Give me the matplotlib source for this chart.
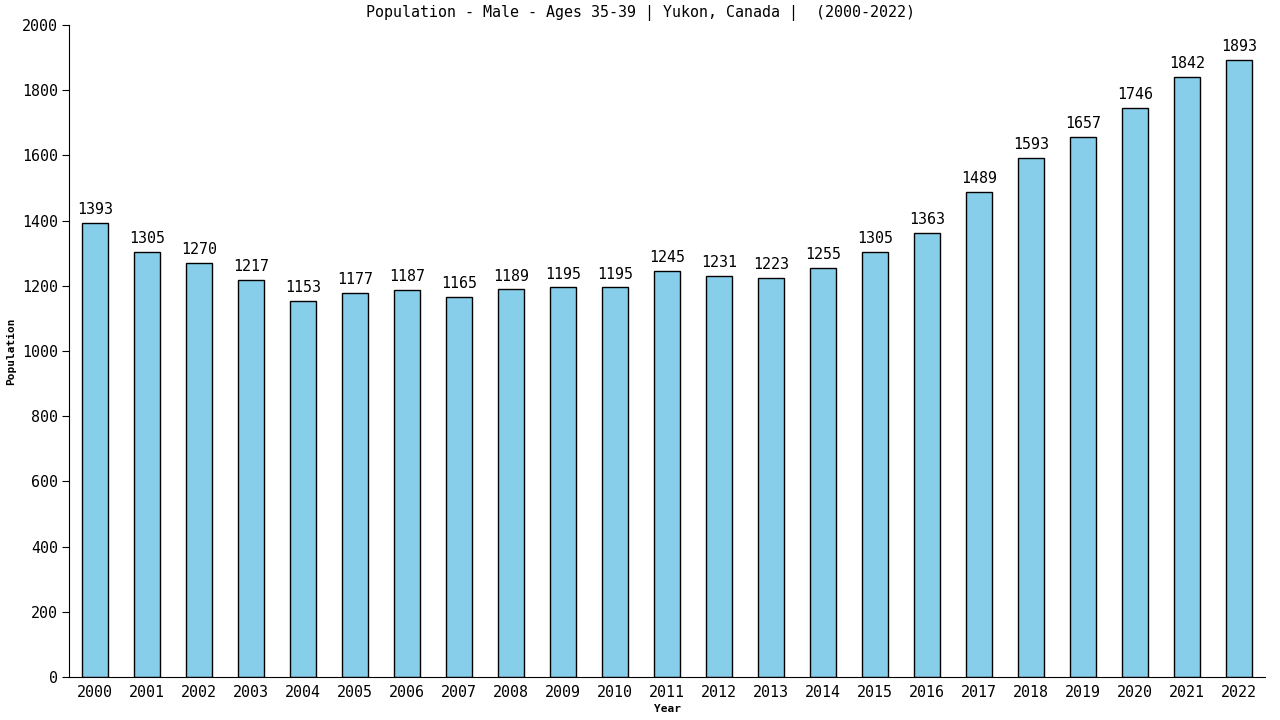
import matplotlib
matplotlib.use("Agg")
import matplotlib.pyplot as plt

years = [str(y) for y in range(2000, 2023)]
population = [1393, 1305, 1270, 1217, 1153, 1177, 1187, 1165, 1189, 1195, 1195,
              1245, 1231, 1223, 1255, 1305, 1363, 1489, 1593, 1657, 1746, 1842, 1893]
yticks = [0, 200, 400, 600, 800, 1000, 1200, 1400, 1600, 1800, 2000]

plt.rcParams['font.family'] = ['DejaVu Sans Mono']

fig = plt.figure(figsize=(12.8, 7.2), dpi=100)
ax = fig.add_axes([69 / 1280, 43 / 720, 1196 / 1280, 652 / 720])

x = range(len(years))
ax.bar(x, population, width=0.5, color='#87ceeb', edgecolor='black', linewidth=1)

for i, v in enumerate(population):
    ax.text(i, v + 18, str(v), ha='center', va='bottom', fontsize=10.8)

ax.set_xlim(-0.5, len(years) - 0.5)
ax.set_ylim(0, 2000)
ax.set_xticks(list(x))
ax.set_xticklabels(years, fontsize=10.8)
ax.set_yticks(yticks)
ax.set_yticklabels([str(t) for t in yticks], fontsize=10.8)
ax.tick_params(axis='x', length=0, pad=6)
ax.tick_params(axis='y', length=5, pad=3)

ax.spines['top'].set_visible(False)
ax.spines['right'].set_visible(False)

fig.text(0.5, 1 - 13 / 720, "Population - Male - Ages 35-39 | Yukon, Canada |  (2000-2022)",
         ha='center', va='center', fontsize=10.8)
ax.set_xlabel("Year", fontsize=8, fontweight='bold', labelpad=3)
ax.set_ylabel("Population", fontsize=8, fontweight='bold', labelpad=4)

fig.savefig("out.png", dpi=100)
